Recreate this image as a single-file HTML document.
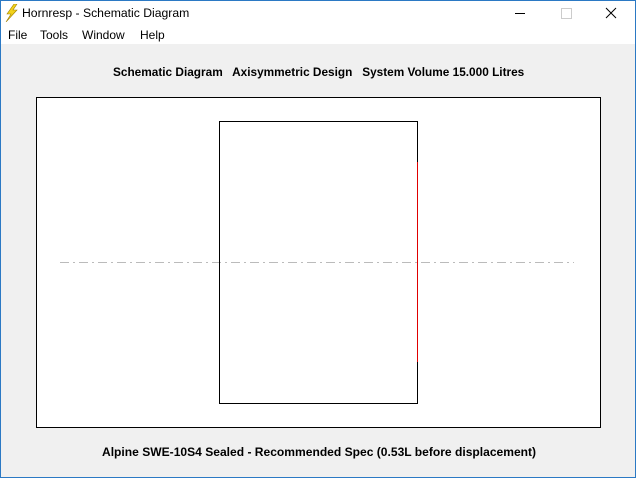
<!DOCTYPE html>
<html><head><style>
html,body{margin:0;padding:0;}
body{width:636px;height:478px;position:relative;overflow:hidden;background:#f0f0f0;font-family:"Liberation Sans",sans-serif;}
.frame{position:absolute;left:0;top:0;width:634px;height:476px;border:1px solid #2b79c4;}
.title{position:absolute;left:1px;top:1px;width:634px;height:23px;background:#fff;}
.menu{position:absolute;left:1px;top:24px;width:634px;height:20px;background:#fff;}
.t{position:absolute;font-size:12px;color:#000;white-space:nowrap;}
.b{position:absolute;font-size:12px;font-weight:bold;color:#000;white-space:nowrap;transform-origin:left;}
</style></head><body>
<div class="frame"></div>
<div class="title"></div>
<div class="menu"></div>
<svg style="position:absolute;left:4px;top:4px" width="14" height="18"><polygon points="10,0 3,10 7,10 2,18 13,6 9,6 13,0" fill="#f2d21b" stroke="#a08000" stroke-width="0.6"/></svg>
<div class="t" style="left:22px;top:6px;font-size:12.2px;">Hornresp - Schematic Diagram</div>
<div style="position:absolute;left:515px;top:13px;width:10px;height:1px;background:#000"></div>
<div style="position:absolute;left:561px;top:8px;width:9px;height:9px;border:1px solid #ccc"></div>
<svg style="position:absolute;left:605px;top:7px" width="12" height="12"><path d="M1,1L11,11M11,1L1,11" stroke="#000" stroke-width="1"/></svg>
<div class="t" style="left:8px;top:28px;">File</div>
<div class="t" style="left:40px;top:28px;">Tools</div>
<div class="t" style="left:82px;top:28px;">Window</div>
<div class="t" style="left:140px;top:28px;">Help</div>
<div class="b" style="left:113px;top:65px;transform:scaleX(0.985);">Schematic Diagram &nbsp; Axisymmetric Design &nbsp; System Volume 15.000 Litres</div>
<svg style="position:absolute;left:0;top:0" width="636" height="478">
<rect x="36.5" y="97.5" width="564" height="330" fill="#fff" stroke="#000"/>
<line x1="60" y1="262.5" x2="574" y2="262.5" stroke="#bbb" stroke-width="1" stroke-dasharray="9,4,2,4"/>
<path d="M417.5,162V121.5H219.5V403.5H417.5V362" fill="none" stroke="#000"/>
</svg>
<div style="position:absolute;left:417px;top:162px;width:1px;height:200px;background:#e00000"></div>
<div class="b" style="left:102px;top:445px;transform:scaleX(1.005);">Alpine SWE-10S4 Sealed - Recommended Spec (0.53L before displacement)</div>
</body></html>
